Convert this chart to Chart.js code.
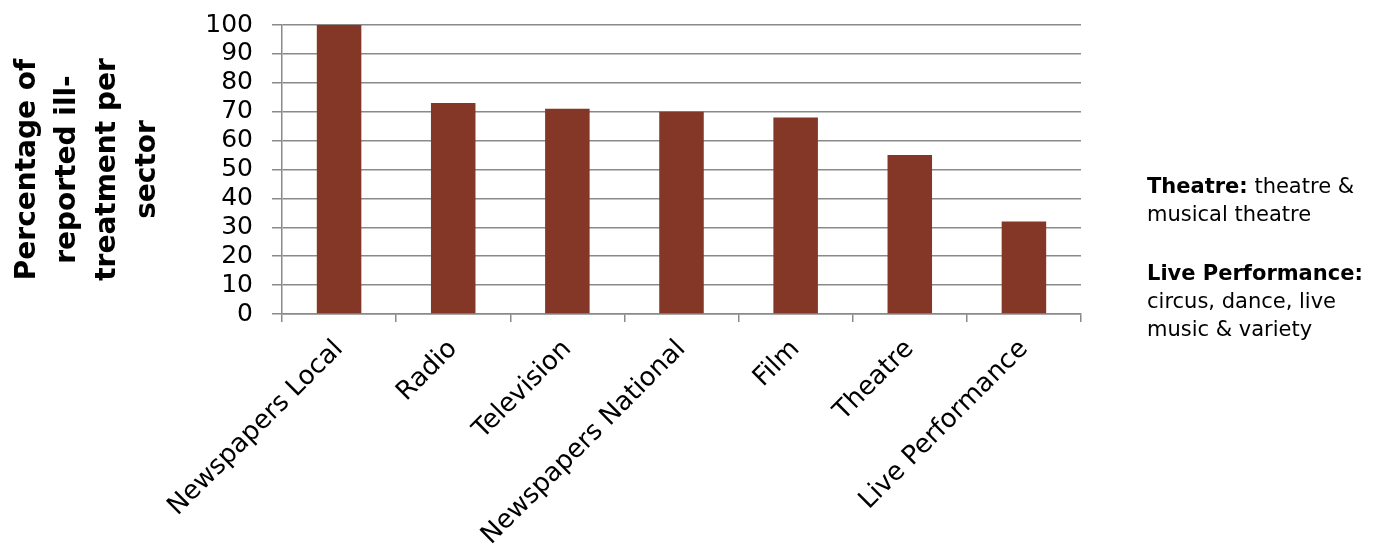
<!DOCTYPE html>
<html>
<head>
<meta charset="utf-8">
<script src="https://cdn.jsdelivr.net/npm/chart.js@4.4.0/dist/chart.umd.min.js"></script>
<style>
  body { margin: 0; background: #fff; }
  #wrap { position: relative; width: 1380px; height: 546px; }
  .nota { position: absolute; left: 1147px; font-family: "DejaVu Sans", Verdana, sans-serif; font-size: 21px; line-height: 28px; color: #000; }
</style>
</head>
<body>
<div id="wrap">
  <canvas id="grafico" width="1380" height="546"></canvas>
  <div class="nota" style="top:172px"><b>Theatre:</b> theatre &amp;<br>musical theatre</div>
  <div class="nota" style="top:259px"><b>Live Performance:</b><br>circus, dance, live<br>music &amp; variety</div>
</div>
<script>
// categorias e valores
var setores = ['Newspapers Local', 'Radio', 'Television', 'Newspapers National', 'Film', 'Theatre', 'Live Performance'];
var percentuais = [100, 73, 71, 70, 68, 55, 32];
var tituloEixoY = ['Percentage of', 'reported ill-', 'treatment per', 'sector'];

var corGrade = '#8a8a8a';

const config = {
  type: 'bar',
  data: {
    labels: setores,
    datasets: [{
      data: percentuais,
      backgroundColor: '#843627',
      barPercentage: 0.39,
      categoryPercentage: 1
    }]
  },
  options: {
    responsive: false,
    animation: false,
    layout: { padding: { left: 0, right: 299, top: 25, bottom: 0 } },
    plugins: { legend: { display: false }, tooltip: { enabled: false } },
    scales: {
      x: {
        afterFit: function (s) { s.height = 232; },
        border: { color: corGrade, width: 1.5 },
        grid: { drawOnChartArea: false, color: corGrade, lineWidth: 1.5, tickLength: 8 },
        ticks: {
          color: '#000',
          font: { family: 'DejaVu Sans', size: 26 },
          autoSkip: false,
          minRotation: 45,
          maxRotation: 45,
          padding: 12
        }
      },
      y: {
        min: 0,
        max: 100,
        afterFit: function (s) {
          // largura fixa e sem folga extra em cima/baixo
          s.width = 282;
          s.paddingTop = 0;
          s.paddingBottom = 0;
        },
        border: { color: corGrade, width: 1.5 },
        grid: { color: corGrade, lineWidth: 1.5, tickLength: 10 },
        ticks: {
          stepSize: 10,
          autoSkip: false,
          color: '#000',
          font: { family: 'DejaVu Sans', size: 25 },
          padding: 19
        },
        title: {
          display: true,
          text: tituloEixoY,
          color: '#000',
          font: { family: 'DejaVu Sans', size: 28, weight: 'bold', lineHeight: 40 / 28 },
          padding: { top: 8, bottom: 0 }
        }
      }
    }
  }
};

let myChart = new Chart(document.getElementById('grafico'), config);
</script>
</body>
</html>
